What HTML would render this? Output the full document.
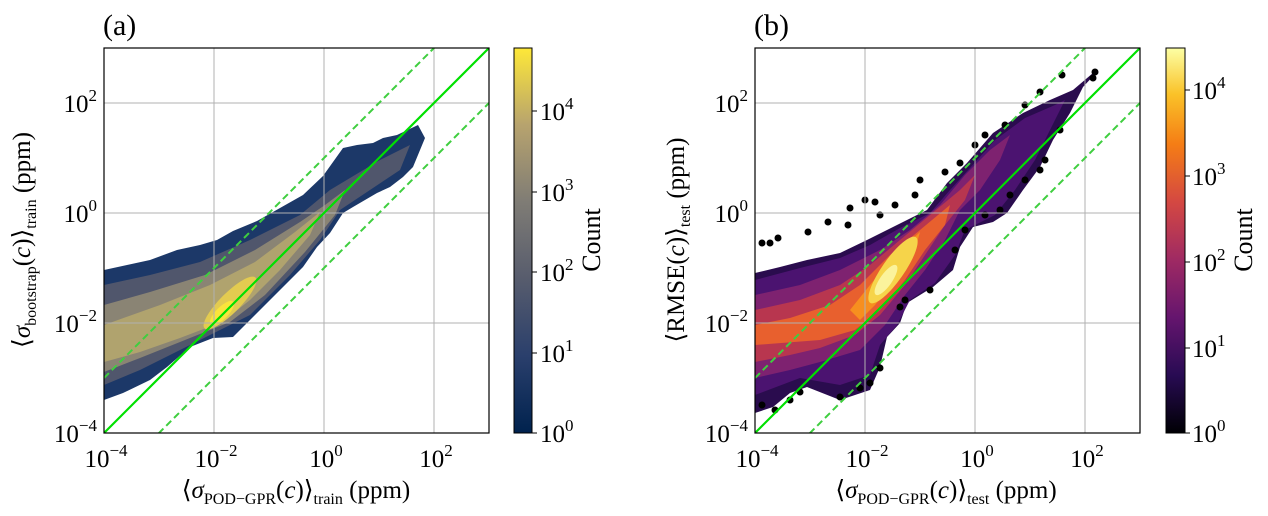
<!DOCTYPE html>
<html><head><meta charset="utf-8"><style>
body{margin:0;background:#fff;width:1268px;height:511px;overflow:hidden}
svg text{font-family:"Liberation Serif","DejaVu Serif",serif;fill:#000}
</style></head><body>
<svg width="1268" height="511" viewBox="0 0 1268 511" xmlns="http://www.w3.org/2000/svg">
<defs>
<linearGradient id="cv" x1="0" y1="1" x2="0" y2="0">
<stop offset="0" stop-color="#00224e"/><stop offset="0.2" stop-color="#2a3f6c"/><stop offset="0.4" stop-color="#575c6d"/><stop offset="0.6" stop-color="#7f7c75"/><stop offset="0.8" stop-color="#b7a36e"/><stop offset="1" stop-color="#fee838"/></linearGradient>
<linearGradient id="inf" x1="0" y1="1" x2="0" y2="0">
<stop offset="0" stop-color="#000004"/><stop offset="0.15" stop-color="#280b53"/><stop offset="0.3" stop-color="#65156e"/><stop offset="0.45" stop-color="#9f2a63"/><stop offset="0.6" stop-color="#d44842"/><stop offset="0.75" stop-color="#f57d15"/><stop offset="0.88" stop-color="#fac228"/><stop offset="1" stop-color="#fcffa4"/></linearGradient>
<clipPath id="ca"><rect x="104" y="48" width="385" height="385"/></clipPath>
<clipPath id="cb"><rect x="755" y="48" width="385" height="385"/></clipPath>
</defs>

<!-- Panel a -->
<g clip-path="url(#ca)">
<polygon fill="#1c3868" points="104,270 127,265 150,260 177,250 200,245 217,240 233,231 257,221 280,208 303,195 323,176 343,148 357,145 373,143 383,138 397,135 418,125 425,138 413,167 403,177 390,187 377,193 353,207 343,213 330,233 317,247 303,267 283,287 267,303 247,323 233,337 213,338 190,347 167,367 150,380 123,393 104,400"/>
<polygon fill="#50566c" points="104,285 150,275 200,262 250,240 300,215 330,190 380,160 410,145 400,170 370,190 340,210 320,240 290,275 250,315 220,330 180,350 140,370 104,385"/>
<polygon fill="#8a8474" points="104,305 150,292 205,275 255,250 300,222 325,205 345,190 335,215 305,252 265,295 230,322 185,340 140,358 104,372"/>
<polygon fill="#b0a36e" points="104,325 160,305 210,285 255,262 295,232 320,212 310,235 280,270 250,300 222,322 180,338 140,352 104,362"/>
<ellipse cx="230" cy="303" rx="36" ry="10" transform="rotate(-45 230 303)" fill="#e3cb50"/>
<ellipse cx="222" cy="313" rx="16" ry="6" transform="rotate(-45 222 313)" fill="#fae43c"/>
</g>
<g stroke="#b0b0b0" stroke-width="1">
<line x1="214" y1="48" x2="214" y2="433"/><line x1="324" y1="48" x2="324" y2="433"/><line x1="434" y1="48" x2="434" y2="433"/>
<line x1="104" y1="103" x2="489" y2="103"/><line x1="104" y1="213" x2="489" y2="213"/><line x1="104" y1="323" x2="489" y2="323"/>
</g>
<g clip-path="url(#ca)">
<line x1="104" y1="433" x2="489" y2="48" stroke="#00e000" stroke-width="2.2"/>
<line x1="104" y1="378" x2="489" y2="-7" stroke="#3fce3f" stroke-width="2" stroke-dasharray="7,4"/>
<line x1="104" y1="488" x2="489" y2="103" stroke="#3fce3f" stroke-width="2" stroke-dasharray="7,4"/>
</g>
<rect x="104" y="48" width="385" height="385" fill="none" stroke="#000" stroke-width="1.2"/>
<rect x="514" y="48" width="18" height="385" fill="url(#cv)" stroke="#000" stroke-width="1"/>
<g stroke="#000" stroke-width="1"><line x1="532" y1="433" x2="537" y2="433"/><line x1="532" y1="353" x2="537" y2="353"/><line x1="532" y1="272" x2="537" y2="272"/><line x1="532" y1="192" x2="537" y2="192"/><line x1="532" y1="111" x2="537" y2="111"/></g>
<g font-size="25">
<text x="540" y="442">10<tspan font-size="17" dy="-11">0</tspan></text>
<text x="540" y="362">10<tspan font-size="17" dy="-11">1</tspan></text>
<text x="540" y="281">10<tspan font-size="17" dy="-11">2</tspan></text>
<text x="540" y="201">10<tspan font-size="17" dy="-11">3</tspan></text>
<text x="540" y="120">10<tspan font-size="17" dy="-11">4</tspan></text>
</g>
<text x="600" y="240" font-size="26" transform="rotate(-90 600 240)" text-anchor="middle">Count</text>
<text x="103" y="35" font-size="30">(a)</text>
<g font-size="25" text-anchor="end">
<text x="97" y="112">10<tspan font-size="17" dy="-11">2</tspan></text>
<text x="97" y="222">10<tspan font-size="17" dy="-11">0</tspan></text>
<text x="97" y="332">10<tspan font-size="17" dy="-11">−2</tspan></text>
<text x="97" y="442">10<tspan font-size="17" dy="-11">−4</tspan></text>
</g>
<g font-size="25" text-anchor="middle">
<text x="106" y="467">10<tspan font-size="17" dy="-11">−4</tspan></text>
<text x="216" y="467">10<tspan font-size="17" dy="-11">−2</tspan></text>
<text x="326" y="467">10<tspan font-size="17" dy="-11">0</tspan></text>
<text x="436" y="467">10<tspan font-size="17" dy="-11">2</tspan></text>
</g>
<text x="296" y="498" font-size="25" text-anchor="middle">⟨<tspan font-style="italic">σ</tspan><tspan font-size="16" dy="6">POD−GPR</tspan><tspan dy="-6">(</tspan><tspan font-style="italic">c</tspan>)⟩<tspan font-size="16" dy="6">train</tspan><tspan dy="-6"> (ppm)</tspan></text>
<text x="30" y="240" font-size="25" text-anchor="middle" transform="rotate(-90 30 240)">⟨<tspan font-style="italic">σ</tspan><tspan font-size="16" dy="6">bootstrap</tspan><tspan dy="-6">(</tspan><tspan font-style="italic">c</tspan>)⟩<tspan font-size="16" dy="6">train</tspan><tspan dy="-6"> (ppm)</tspan></text>

<!-- Panel b -->
<g clip-path="url(#cb)">
<polygon fill="#2a0c4e" points="755,273 780,267 807,260 840,253 867,240 887,230 913,217 927,210 947,183 967,163 993,133 1023,113 1050,100 1073,90 1093,73 1097,72 1083,87 1070,113 1053,140 1040,167 1023,190 1007,213 993,222 973,227 960,247 953,270 933,287 907,303 900,323 887,337 880,367 870,390 840,400 807,387 790,393 773,407 755,413"/>
<polygon fill="#4b1370" points="755,280 800,268 840,258 870,245 900,228 930,213 950,190 970,168 995,140 1025,118 1055,105 1065,100 1050,130 1035,160 1015,190 995,215 965,230 955,255 935,283 910,300 897,325 880,345 870,375 840,385 800,378 755,395"/>
<polygon fill="#7e2270" points="755,295 800,285 840,270 880,250 910,230 940,205 965,175 990,150 1010,135 1000,160 980,190 960,210 945,240 925,270 905,295 885,325 860,350 820,362 790,370 755,378"/>
<polygon fill="#b8364f" points="755,310 800,300 840,285 870,265 900,240 930,215 960,190 975,175 965,200 945,225 925,255 905,285 880,315 855,335 820,348 790,355 755,362"/>
<polygon fill="#e8602e" points="755,325 790,318 830,305 860,285 890,255 920,230 950,205 945,225 925,250 905,280 880,310 855,330 820,340 755,345"/>
<polygon fill="#f78f1f" points="850,310 870,285 895,255 920,232 915,250 895,280 875,305 860,320"/>
<ellipse cx="893" cy="270" rx="40" ry="11" transform="rotate(-55 893 270)" fill="#f6d44a"/>
<ellipse cx="886" cy="280" rx="18" ry="6" transform="rotate(-55 886 280)" fill="#fbf39c"/>
<g fill="#000">
<circle cx="762" cy="243" r="3.5"/><circle cx="770" cy="243" r="3.5"/><circle cx="778" cy="238" r="3.5"/><circle cx="808" cy="232" r="3.5"/><circle cx="828" cy="222" r="3.5"/><circle cx="848" cy="225" r="3.5"/><circle cx="850" cy="208" r="3.5"/><circle cx="865" cy="200" r="3.5"/><circle cx="875" cy="202" r="3.5"/><circle cx="880" cy="215" r="3.5"/><circle cx="895" cy="205" r="3.5"/><circle cx="915" cy="195" r="3.5"/><circle cx="920" cy="180" r="3.5"/><circle cx="945" cy="172" r="3.5"/><circle cx="960" cy="163" r="3.5"/><circle cx="975" cy="145" r="3.5"/><circle cx="985" cy="135" r="3.5"/><circle cx="1005" cy="125" r="3.5"/><circle cx="1025" cy="105" r="3.5"/><circle cx="1040" cy="92" r="3.5"/><circle cx="1062" cy="75" r="3.5"/><circle cx="1095" cy="72" r="3.5"/><circle cx="1093" cy="78" r="3.5"/>
<circle cx="762" cy="405" r="3.5"/><circle cx="775" cy="410" r="3.5"/><circle cx="790" cy="400" r="3.5"/><circle cx="800" cy="392" r="3.5"/><circle cx="840" cy="397" r="3.5"/><circle cx="860" cy="388" r="3.5"/><circle cx="870" cy="383" r="3.5"/><circle cx="880" cy="368" r="3.5"/><circle cx="900" cy="307" r="3.5"/><circle cx="905" cy="300" r="3.5"/><circle cx="930" cy="290" r="3.5"/><circle cx="955" cy="250" r="3.5"/><circle cx="965" cy="230" r="3.5"/><circle cx="985" cy="215" r="3.5"/><circle cx="1000" cy="210" r="3.5"/><circle cx="1010" cy="195" r="3.5"/><circle cx="1025" cy="180" r="3.5"/><circle cx="1040" cy="170" r="3.5"/><circle cx="1045" cy="160" r="3.5"/><circle cx="1060" cy="130" r="3.5"/>
</g>
</g>
<g stroke="#b0b0b0" stroke-width="1">
<line x1="865" y1="48" x2="865" y2="433"/><line x1="975" y1="48" x2="975" y2="433"/><line x1="1085" y1="48" x2="1085" y2="433"/>
<line x1="755" y1="103" x2="1140" y2="103"/><line x1="755" y1="213" x2="1140" y2="213"/><line x1="755" y1="323" x2="1140" y2="323"/>
</g>
<g clip-path="url(#cb)">
<line x1="755" y1="433" x2="1140" y2="48" stroke="#00e000" stroke-width="2.2"/>
<line x1="755" y1="378" x2="1140" y2="-7" stroke="#3fce3f" stroke-width="2" stroke-dasharray="7,4"/>
<line x1="755" y1="488" x2="1140" y2="103" stroke="#3fce3f" stroke-width="2" stroke-dasharray="7,4"/>
</g>
<rect x="755" y="48" width="385" height="385" fill="none" stroke="#000" stroke-width="1.2"/>
<rect x="1166" y="48" width="19" height="385" fill="url(#inf)" stroke="#000" stroke-width="1"/>
<g stroke="#000" stroke-width="1"><line x1="1185" y1="433" x2="1190" y2="433"/><line x1="1185" y1="348" x2="1190" y2="348"/><line x1="1185" y1="262" x2="1190" y2="262"/><line x1="1185" y1="176" x2="1190" y2="176"/><line x1="1185" y1="90" x2="1190" y2="90"/></g>
<g font-size="25">
<text x="1192" y="442">10<tspan font-size="17" dy="-11">0</tspan></text>
<text x="1192" y="357">10<tspan font-size="17" dy="-11">1</tspan></text>
<text x="1192" y="271">10<tspan font-size="17" dy="-11">2</tspan></text>
<text x="1192" y="185">10<tspan font-size="17" dy="-11">3</tspan></text>
<text x="1192" y="99">10<tspan font-size="17" dy="-11">4</tspan></text>
</g>
<text x="1252" y="240" font-size="26" transform="rotate(-90 1252 240)" text-anchor="middle">Count</text>
<text x="754" y="35" font-size="30">(b)</text>
<g font-size="25" text-anchor="end">
<text x="748" y="112">10<tspan font-size="17" dy="-11">2</tspan></text>
<text x="748" y="222">10<tspan font-size="17" dy="-11">0</tspan></text>
<text x="748" y="332">10<tspan font-size="17" dy="-11">−2</tspan></text>
<text x="748" y="442">10<tspan font-size="17" dy="-11">−4</tspan></text>
</g>
<g font-size="25" text-anchor="middle">
<text x="757" y="467">10<tspan font-size="17" dy="-11">−4</tspan></text>
<text x="867" y="467">10<tspan font-size="17" dy="-11">−2</tspan></text>
<text x="977" y="467">10<tspan font-size="17" dy="-11">0</tspan></text>
<text x="1087" y="467">10<tspan font-size="17" dy="-11">2</tspan></text>
</g>
<text x="946" y="498" font-size="25" text-anchor="middle">⟨<tspan font-style="italic">σ</tspan><tspan font-size="16" dy="6">POD−GPR</tspan><tspan dy="-6">(</tspan><tspan font-style="italic">c</tspan>)⟩<tspan font-size="16" dy="6">test</tspan><tspan dy="-6"> (ppm)</tspan></text>
<text x="684" y="240" font-size="25" text-anchor="middle" transform="rotate(-90 684 240)">⟨RMSE(<tspan font-style="italic">c</tspan>)⟩<tspan font-size="16" dy="6">test</tspan><tspan dy="-6"> (ppm)</tspan></text>
</svg>
</body></html>
